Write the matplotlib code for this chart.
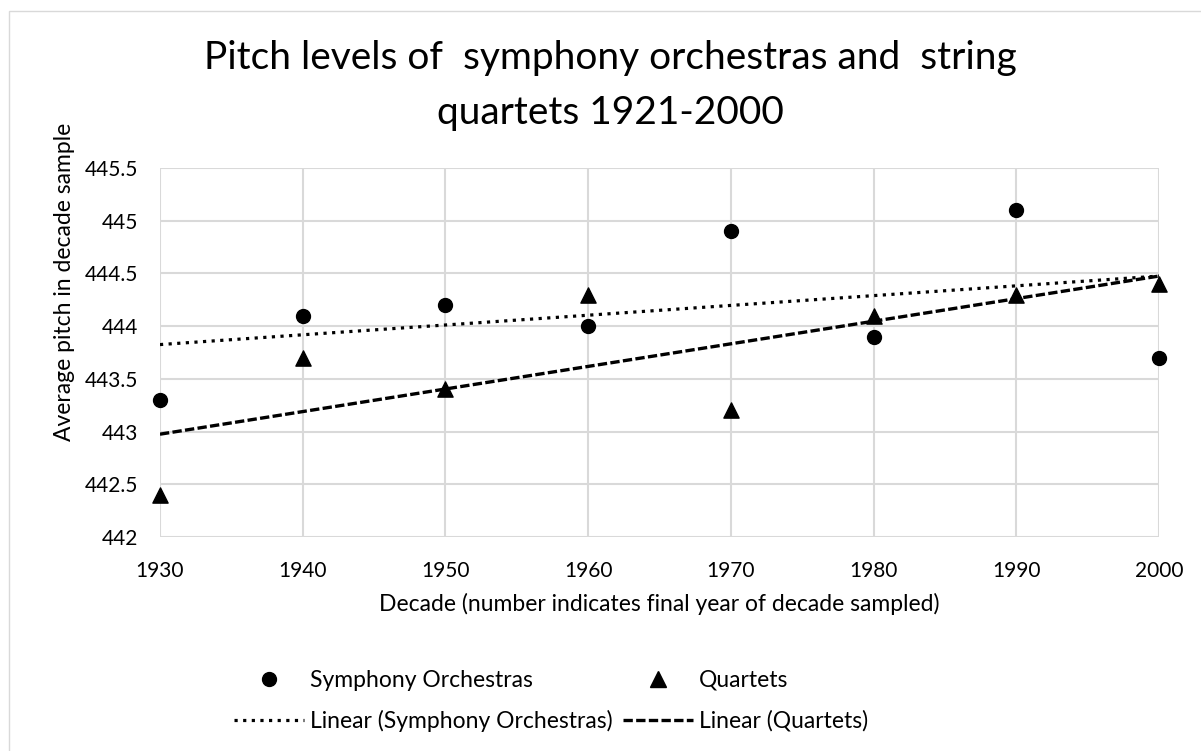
import numpy as np
import matplotlib.pyplot as plt
from matplotlib.patches import Rectangle
from matplotlib.lines import Line2D

plt.rcParams['font.family'] = ['Lato', 'DejaVu Sans']

# decade end years and average pitch per decade sample
decades = [1930, 1940, 1950, 1960, 1970, 1980, 1990, 2000]
symphony = [443.3, 444.1, 444.2, 444.0, 444.9, 443.9, 445.1, 443.7]
quartets = [442.4, 443.7, 443.4, 444.3, 443.2, 444.1, 444.3, 444.4]

yticks = [442, 442.5, 443, 443.5, 444, 444.5, 445, 445.5]
ytick_labels = ['442', '442.5', '443', '443.5', '444', '444.5', '445', '445.5']

DOT = (0, (1, 1.7))
DASH = (0, (2.8, 1.0))

fig = plt.figure(figsize=(12.01, 7.51), dpi=100)
ax = fig.add_axes([0.1332, 0.285, 0.8318, 0.4913])

x = np.array(decades, dtype=float)

# linear trendlines like Excel
k_s, b_s = np.polyfit(x, symphony, 1)
k_q, b_q = np.polyfit(x, quartets, 1)
xt = np.array([decades[0], decades[-1]], dtype=float)

ax.plot(xt, k_s * xt + b_s, color='black', linestyle=DOT, linewidth=2.3, zorder=3)
ax.plot(xt, k_q * xt + b_q, color='black', linestyle=DASH, linewidth=2.4, zorder=3)

ax.scatter(x, symphony, marker='o', s=100, color='black', zorder=4, clip_on=False)
ax.scatter(x, quartets, marker='^', s=120, color='black', zorder=4, clip_on=False)

ax.set_xlim(1930, 2000)
ax.set_ylim(442, 445.5)
ax.set_xticks(decades)
ax.set_xticklabels([str(d) for d in decades], fontsize=15)
ax.set_yticks(yticks)
ax.set_yticklabels(ytick_labels, fontsize=15)
ax.tick_params(axis='x', length=0, pad=17)
ax.tick_params(axis='y', length=0, pad=16)
ax.grid(True, color='#d9d9d9', linewidth=1.5)
ax.set_axisbelow(True)
for s in ax.spines.values():
    s.set_visible(False)

ax.set_xlabel('Decade (number indicates final year of decade sampled)', fontsize=16.5, labelpad=9)
fig.text(65 / 1201, 1 - 282 / 751, 'Average pitch in decade sample', rotation=90,
         ha='center', va='center', fontsize=16.5)

fig.text(0.508, 1 - 58 / 751, 'Pitch levels of  symphony orchestras and  string', ha='center', va='center', fontsize=28)
fig.text(0.508, 1 - 113 / 751, 'quartets 1921-2000', ha='center', va='center', fontsize=28)

handles = [
    Line2D([], [], marker='o', color='black', linestyle='none', markersize=10),
    Line2D([], [], color='black', linestyle=DOT, linewidth=2.3),
    Line2D([], [], marker='^', color='black', linestyle='none', markersize=11),
    Line2D([], [], color='black', linestyle=DASH, linewidth=2.4),
]
labels = ['Symphony Orchestras', 'Linear (Symphony Orchestras)', 'Quartets', 'Linear (Quartets)']
fig.legend(handles, labels, loc='center', bbox_to_anchor=(551 / 1201, 1 - 701 / 751), ncol=2, frameon=False,
           fontsize=16.5, handlelength=3.05, handletextpad=0.26, columnspacing=0.44, labelspacing=0.85,
           borderpad=0)

fig.patches.append(Rectangle((9 / 1201, -0.1), 1.2, 1.1 - 11 / 751, transform=fig.transFigure,
                             fill=False, edgecolor='#d9d9d9', linewidth=1.0))

fig.savefig('out.png', dpi=100)
